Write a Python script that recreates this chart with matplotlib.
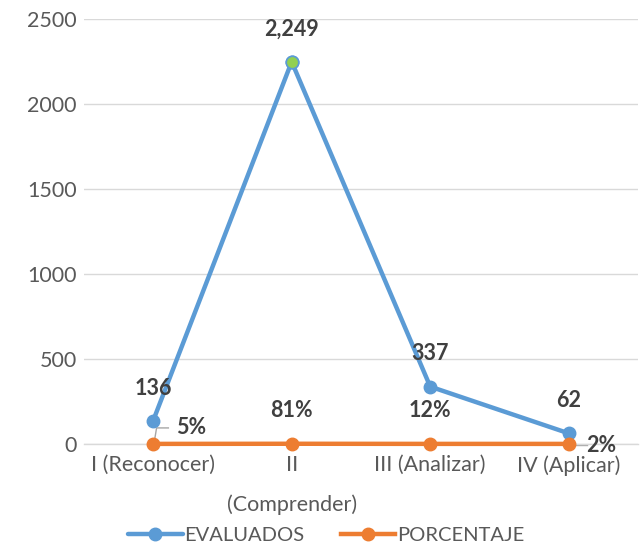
import matplotlib.pyplot as plt

plt.rcParams['font.family'] = ['Lato', 'DejaVu Sans']

categories = ["I (Reconocer)", "II\n(Comprender)", "III (Analizar)", "IV (Aplicar)"]
evaluados = [136, 2249, 337, 62]
porcentaje = [0.05, 0.81, 0.12, 0.02]
evaluados_labels = ["136", "2,249", "337", "62"]
porcentaje_labels = ["5%", "81%", "12%", "2%"]
yticks = [0, 500, 1000, 1500, 2000, 2500]

blue = "#5B9BD5"
orange = "#ED7D31"
green = "#92D050"
text_col = "#595959"
label_col = "#404040"

fig = plt.figure(figsize=(6.4, 5.46), dpi=100)
ax = fig.add_axes([0.131, 0.187, 0.866, 0.778])

x = list(range(len(categories)))

ax.plot(x, evaluados, color=blue, lw=3.2, marker="o", ms=9,
        mfc=blue, mec=blue, solid_capstyle="round", zorder=3, label="EVALUADOS")
# highlighted point for the peak
ax.plot([x[1]], [evaluados[1]], marker="o", ms=9, mfc=green, mec=blue,
        mew=1.2, ls="none", zorder=4)
ax.plot(x, porcentaje, color=orange, lw=3.2, marker="o", ms=9,
        mfc=orange, mec=orange, zorder=3, label="PORCENTAJE", clip_on=False)

ax.set_xlim(-0.5, 3.5)
ax.set_ylim(0, 2500)
ax.set_yticks(yticks)
ax.set_xticks(x)
ax.set_xticklabels(categories, linespacing=2.15)
ax.tick_params(axis="both", length=0, colors=text_col, labelsize=15.5)
ax.tick_params(axis="x", pad=8)
ax.tick_params(axis="y", pad=5)
ax.grid(axis="y", color="#D9D9D9", lw=1)
ax.set_axisbelow(True)
for s in ["left", "right", "top"]:
    ax.spines[s].set_visible(False)
ax.spines["bottom"].set_color("#D9D9D9")
ax.spines["bottom"].set_linewidth(1)

lab_kw = dict(fontsize=15.5, fontweight="bold", color=label_col, ha="center", va="center")

# value labels for EVALUADOS
for xi, yi, t in zip(x, evaluados, evaluados_labels):
    ax.annotate(t, (xi, yi), xytext=(0, 23.5), textcoords="offset points", **lab_kw)

# percentage labels
ax.annotate(porcentaje_labels[0], (x[0], porcentaje[0]), xytext=(27, 12),
            textcoords="offset points", **lab_kw)
ax.plot([x[0] + 0.01, x[0] + 0.025, x[0] + 0.11], [20, 94, 94],
        color="#A6A6A6", lw=1, zorder=2)
ax.annotate(porcentaje_labels[1], (x[1], porcentaje[1]), xytext=(0, 24),
            textcoords="offset points", **lab_kw)
ax.annotate(porcentaje_labels[2], (x[2], porcentaje[2]), xytext=(0, 24),
            textcoords="offset points", **lab_kw)
ax.plot([x[3], x[3] + 0.13], [-5, -5], color="#A6A6A6", lw=1, zorder=2, clip_on=False)
ax.annotate(porcentaje_labels[3], (x[3], porcentaje[3]), xytext=(23, -1.5),
            textcoords="offset points", annotation_clip=False, **lab_kw)

leg = fig.legend(loc="center", bbox_to_anchor=(0.51, 0.02), ncol=2,
                 frameon=False, fontsize=14.5, handlelength=2.7, columnspacing=1.8,
                 handletextpad=0.1, borderpad=0.1, borderaxespad=0)
for t in leg.get_texts():
    t.set_color(text_col)

fig.savefig("out.png", dpi=100)
